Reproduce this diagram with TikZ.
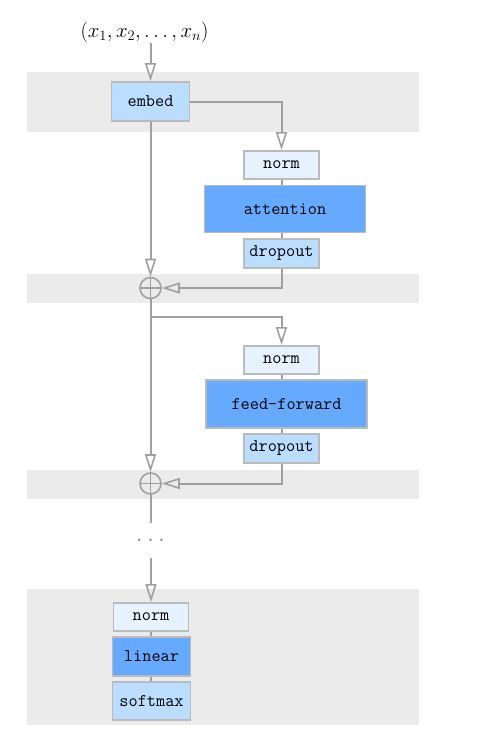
\documentclass[tikz,border=0pt]{standalone}
\usetikzlibrary{arrows.meta,backgrounds}
\definecolor{bandc}{HTML}{EBEBEB}
\definecolor{linec}{HTML}{A0A0A0}
\definecolor{edgec}{HTML}{BBBBBB}
\definecolor{palec}{HTML}{E6F2FF}
\definecolor{midc}{HTML}{BBDDFF}
\definecolor{deepc}{HTML}{66AAFF}
\definecolor{dotc}{HTML}{8C96A0}
\tikzset{
  blk/.style={draw=edgec, line width=1.8pt, inner sep=0pt, font=\ttfamily\fontsize{17.8}{20}\selectfont, text=black},
  palebox/.style={blk, fill=palec, minimum width=75pt, minimum height=28pt},
  midbox/.style={blk, fill=midc},
  deepbox/.style={blk, fill=deepc},
  conn/.style={draw=linec, line width=2pt},
  arr/.style={conn, -{Triangle[open, length=18pt, width=11pt, line width=1.6pt]}},
  addc/.style={circle, draw=linec, line width=1.6pt, minimum size=21pt, inner sep=0pt, path picture={\draw[linec, line width=1.6pt] (path picture bounding box.north) -- (path picture bounding box.south) (path picture bounding box.west) -- (path picture bounding box.east);}},
  band/.style={fill=bandc, draw=none}
}
\begin{document}
\begin{tikzpicture}[x=1pt,y=-1pt]
\useasboundingbox (0,0) rectangle (503,750);
\node[font=\fontsize{21}{24}\selectfont, inner sep=0pt, minimum height=20pt] (in) at (144.5,32) {$(x_1,x_2,\ldots,x_n)$};
\node[midbox, minimum width=78pt, minimum height=39pt] (embed) at (150.5,101.5) {embed};
\node[palebox] (norma) at (281.5,165) {norm};
\node[deepbox, minimum width=161pt, minimum height=47pt] (att) at (285,209) {attention};
\node[midbox, minimum width=75pt, minimum height=29pt] (dropa) at (281.5,253.5) {dropout};
\node[addc] (pa) at (150.5,288) {};
\coordinate (br) at (150.5,317);
\node[palebox] (normb) at (281.5,360) {norm};
\node[deepbox, minimum width=161pt, minimum height=48pt] (ff) at (286.5,404) {feed-forward};
\node[midbox, minimum width=75pt, minimum height=29pt] (dropb) at (281.5,448.5) {dropout};
\node[addc] (pb) at (150.5,483.5) {};
\node[inner sep=0pt, minimum height=34pt, text=dotc, font=\fontsize{23}{24}\selectfont] (dots) at (150.5,540.5) {$\cdots$};
\node[palebox] (normc) at (151,617) {norm};
\node[deepbox, minimum width=78pt, minimum height=39pt] (lin) at (151.5,656.5) {linear};
\node[midbox, minimum width=78pt, minimum height=38pt] (soft) at (151.5,701) {softmax};
\begin{scope}[on background layer]
\fill[band] (27,72) rectangle (419,132);
\fill[band] (27,273.5) rectangle (419,303);
\fill[band] (27,470) rectangle (419,499);
\fill[band] (27,589) rectangle (419,725);
\draw[conn] (norma.south) -- (dropa.north);
\draw[conn] (normb.south) -- (dropb.north);
\draw[conn] (normc.south) -- (normc.south |- soft.north);
\end{scope}
\draw[arr] (embed.north |- in.south) -- (embed.north);
\draw[arr] (embed.east) -| (norma.north);
\draw[arr] (embed.south) -- (pa.north);
\draw[arr] (dropa.south) |- (pa.east);
\draw[conn] (pa.south) -- (br);
\draw[arr] (br) -| (normb.north);
\draw[arr] (br) -- (pb.north);
\draw[arr] (dropb.south) |- (pb.east);
\draw[conn] (pb.south) -- (dots.north);
\draw[arr] (normc.north |- dots.south) -- (normc.north);
\end{tikzpicture}
\end{document}
